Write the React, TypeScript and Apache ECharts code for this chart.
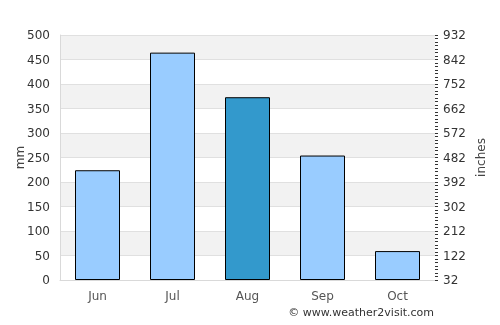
import React, { useEffect, useRef } from "react";
import * as echarts from "echarts";

const months = ["Jun", "Jul", "Aug", "Sep", "Oct"];
const rainfallMm = [224, 464, 373, 254, 59];
const highlightIndex = 2;
const inchLabels = ["32", "122", "212", "302", "392", "482", "572", "662", "752", "842", "932"];

export default function App() {
  const ref = useRef<HTMLDivElement>(null);
  useEffect(() => {
    if (!ref.current) return;
    const chart = echarts.init(ref.current, null, { renderer: "svg" });
    const font = "DejaVu Sans";
    chart.setOption({
      animation: false,
      textStyle: { fontFamily: font },
      grid: { left: 60, right: 65, top: 35, bottom: 45, containLabel: false, outerBoundsMode: "none" },
      xAxis: {
        type: "category",
        data: months,
        axisLine: { lineStyle: { color: "#d9d9d9" } },
        axisTick: { show: false },
        axisLabel: { color: "#555", fontSize: 12, margin: 10, fontFamily: font },
      },
      yAxis: [
        {
          type: "value",
          min: 0,
          max: 500,
          interval: 50,
          name: "mm",
          nameLocation: "middle",
          nameRotate: 90,
          nameGap: 34,
          nameMoveOverlap: false,
          nameTextStyle: { color: "#444", fontSize: 12, fontFamily: font },
          axisLine: { show: true, lineStyle: { color: "#d9d9d9" } },
          axisTick: { show: false },
          axisLabel: { color: "#333", fontSize: 12, margin: 10, fontFamily: font },
          splitLine: { show: true, lineStyle: { color: "#e0e0e0" } },
          splitArea: { show: true, areaStyle: { color: ["#ffffff", "#f2f2f2"] } },
        },
        {
          type: "value",
          min: 0,
          max: 500,
          interval: 50,
          position: "right",
          name: "inches",
          nameLocation: "middle",
          nameRotate: 90,
          nameGap: 40,
          nameMoveOverlap: false,
          nameTextStyle: { color: "#444", fontSize: 12, fontFamily: font },
          axisLine: { show: false },
          axisTick: { show: true, length: 3, inside: false, lineStyle: { color: "#333" } },
          minorTick: { show: true, splitNumber: 7, length: 3, lineStyle: { color: "#333" } },
          axisLabel: {
            color: "#333",
            fontSize: 12,
            margin: 8,
            fontFamily: font,
            formatter: (v: number) => inchLabels[Math.round(v / 50)] ?? "",
          },
          splitLine: { show: false },
        },
      ],
      series: [
        {
          type: "bar",
          yAxisIndex: 0,
          barWidth: "60%",
          data: rainfallMm.map((v, i) => ({
            value: v,
            itemStyle: { color: i === highlightIndex ? "#3399cc" : "#99ccff" },
          })),
          itemStyle: { borderColor: "#000", borderWidth: 1 },
        },
      ],
      graphic: [
        {
          type: "text",
          right: 66,
          top: 307,
          style: { text: "© www.weather2visit.com", fill: "#333", fontSize: 11, fontFamily: font },
        },
      ],
    });
    return () => chart.dispose();
  }, []);
  return <div ref={ref} style={{ position: "fixed", left: 0, top: 0, width: 500, height: 325 }} />;
}
